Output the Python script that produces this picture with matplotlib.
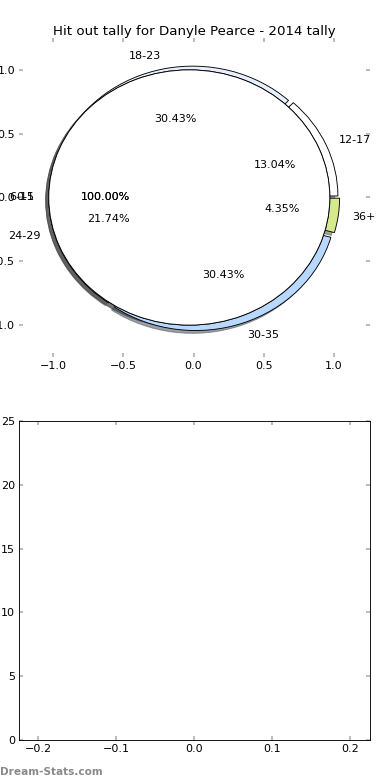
import matplotlib
matplotlib.use("Agg")
import matplotlib.pyplot as plt

# hit outs per age group (minutes of game)
groups = ["12-17", "18-23", "24-29", "30-35", "36+"]
hitouts = [3, 7, 5, 7, 1]
colours = ["#ffffff", "#e8f0ff", "#ffffff", "#b8d8ff", "#d4ea8c"]
explode = [0.03, 0.03, 0.03, 0.045, 0.04]

# groups with no hit outs, drawn as the plain covering disc
empty_groups = ["0-5", "6-11"]

bar_xticks = [-0.2, -0.1, 0.0, 0.1, 0.2]
bar_yticks = [0, 5, 10, 15, 20, 25]

plt.rcParams["font.size"] = 10
plt.rcParams["xtick.direction"] = "in"
plt.rcParams["ytick.direction"] = "in"
plt.rcParams["xtick.color"] = "#b0b0b0"
plt.rcParams["ytick.color"] = "#b0b0b0"
plt.rcParams["xtick.labelcolor"] = "black"
plt.rcParams["ytick.labelcolor"] = "black"

fig = plt.figure(figsize=(4.875, 9.75), dpi=80)

# pie on top
ax = fig.add_axes([0.0487, 0.5423, 0.9, 0.409])
ax.pie(hitouts, labels=groups, colors=colours, explode=explode,
       autopct="%1.2f%%", shadow=True, startangle=0, frame=True,
       wedgeprops={"edgecolor": "black", "linewidth": 0.8})
for g in empty_groups:
    ax.pie([1], labels=[g], colors=["white"], autopct="%1.2f%%",
           explode=[0.03], shadow=True, frame=True,
           wedgeprops={"edgecolor": "black", "linewidth": 0.8})
ax.set_aspect("auto")
ax.set_xlim(-1.242, 1.256)
ax.set_ylim(-1.25, 1.25)
ax.set_xticks([-1.0, -0.5, 0.0, 0.5, 1.0])
ax.set_yticks([-1.0, -0.5, 0.0, 0.5, 1.0])
ax.tick_params(top=True, right=True, length=4, width=1.5)
ax.set_frame_on(False)
ax.set_title("Hit out tally for Danyle Pearce - 2014 tally", fontsize=12, pad=3)

# empty chart below
ax2 = fig.add_axes([0.0487, 0.0513, 0.9, 0.409])
ax2.set_xlim(-0.225, 0.225)
ax2.set_ylim(0, 25)
ax2.set_xticks(bar_xticks)
ax2.set_yticks(bar_yticks)
ax2.tick_params(top=True, right=True, length=4, width=1.5)

fig.text(0.0, 0.007, "Dream-Stats.com", color="#8a8a8a", fontsize=9.5, fontweight="bold")

fig.savefig("out.png", dpi=80)
